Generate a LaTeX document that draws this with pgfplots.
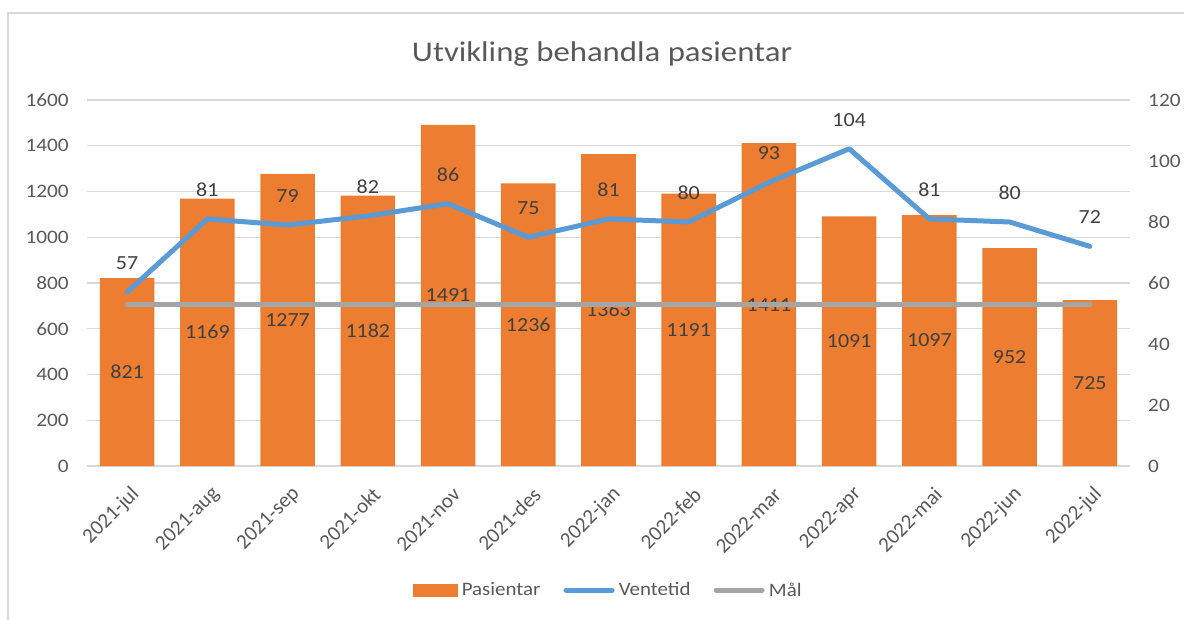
\documentclass[border=0pt]{standalone}
\usepackage{pgfplots}
\usepackage{pgfplotstable}
\pgfplotsset{compat=1.18}
\usepackage{fontspec}
\setmainfont{Carlito}
\definecolor{cbar}{HTML}{ED7D31}
\definecolor{cline}{HTML}{5B9BD5}
\definecolor{cgoal}{HTML}{A5A5A5}
\definecolor{ctext}{HTML}{595959}
\definecolor{clab}{HTML}{404040}
\definecolor{cgrid}{HTML}{D9D9D9}

\pgfplotstableread{
x p v m
0 821 57 53
1 1169 81 53
2 1277 79 53
3 1182 82 53
4 1491 86 53
5 1236 75 53
6 1363 81 53
7 1191 80 53
8 1411 93 53
9 1091 104 53
10 1097 81 53
11 952 80 53
12 725 72 53
}\data

\begin{document}
\begin{tikzpicture}
\useasboundingbox (0pt,0pt) rectangle (1184pt,619pt);
\draw[cgrid, line width=1.5pt] (8pt,-20pt) -- (8pt,606pt) -- (1200pt,606pt);
\node[font=\fontsize{28.5pt}{32pt}\selectfont, text=ctext, anchor=base, xscale=1.15] at (602pt,557pt) {Utvikling behandla pasientar};

\begin{axis}[
  at={(87pt,153pt)}, anchor=south west,
  scale only axis, width=1043pt, height=366pt,
  xmin=-0.5, xmax=12.5, ymin=0, ymax=1600,
  ytick={0,200,...,1600},
  xtick={0,...,12},
  xticklabels={2021-jul,2021-aug,2021-sep,2021-okt,2021-nov,2021-des,2022-jan,2022-feb,2022-mar,2022-apr,2022-mai,2022-jun,2022-jul},
  ymajorgrids, grid style={cgrid, line width=1.3pt},
  axis line style={draw=none},
  major tick length=0pt,
  tick label style={font=\fontsize{19pt}{22pt}\selectfont, text=ctext},
  yticklabel style={inner sep=0pt, anchor=east, xshift=-18pt, xscale=1.12},
  xticklabel style={font=\fontsize{21pt}{24pt}\selectfont, inner sep=0pt, xshift=9pt, yshift=-25pt, rotate=45, anchor=east},
  /pgf/number format/assume math mode=true,
  /pgf/number format/1000 sep={},
  clip=false,
]
\addplot[ybar, bar width=0.68, fill=cbar, draw=none, forget plot] table[x=x,y=p]{\data};
\addplot[draw=none, mark=none, forget plot, nodes near coords, point meta=explicit symbolic,
  nodes near coords style={font=\fontsize{20pt}{24pt}\selectfont, text=clab, anchor=center, inner sep=0pt, xscale=1.1}]
  table[x=x, y expr=0.5*\thisrow{p}, meta=p]{\data};
\end{axis}

\begin{axis}[
  at={(87pt,153pt)}, anchor=south west,
  scale only axis, width=1043pt, height=366pt,
  xmin=-0.5, xmax=12.5, ymin=0, ymax=120,
  ytick={0,20,...,120},
  axis x line=none,
  axis y line*=right,
  axis line style={draw=none},
  major tick length=0pt,
  tick label style={font=\fontsize{19pt}{22pt}\selectfont, text=ctext},
  yticklabel style={inner sep=0pt, anchor=west, xshift=18pt, xscale=1.12},
  /pgf/number format/assume math mode=true,
  clip=false,
  legend columns=3,
  legend style={at={(0.5,-0.339)}, anchor=center, draw=none, fill=none,
    font=\fontsize{19pt}{22pt}\selectfont, text=ctext,
    /tikz/every odd column/.append style={column sep=2pt},
    /tikz/every even column/.append style={column sep=21pt},
    nodes={inner sep=2pt, xscale=1.1}},
]
\addlegendimage{legend image code/.code={\fill[cbar] (0pt,-6pt) rectangle (44pt,6pt);}}
\addlegendentry{Pasientar}
\addplot[cline, line width=5pt, line cap=round, line join=round, mark=none,
  legend image code/.code={\draw (0pt,0pt) -- (46pt,0pt);},
  nodes near coords, point meta=explicit symbolic,
  nodes near coords style={font=\fontsize{20pt}{24pt}\selectfont, text=clab, anchor=south, inner sep=0pt, yshift=20pt, xscale=1.1}]
  table[x=x, y=v, meta=v]{\data};
\addlegendentry{Ventetid}
\addplot[cgoal, line width=5pt, line cap=round, line join=round, mark=none,
  legend image code/.code={\draw (0pt,0pt) -- (46pt,0pt);}]
  table[x=x, y=m]{\data};
\addlegendentry{Mål}
\end{axis}
\end{tikzpicture}
\end{document}
